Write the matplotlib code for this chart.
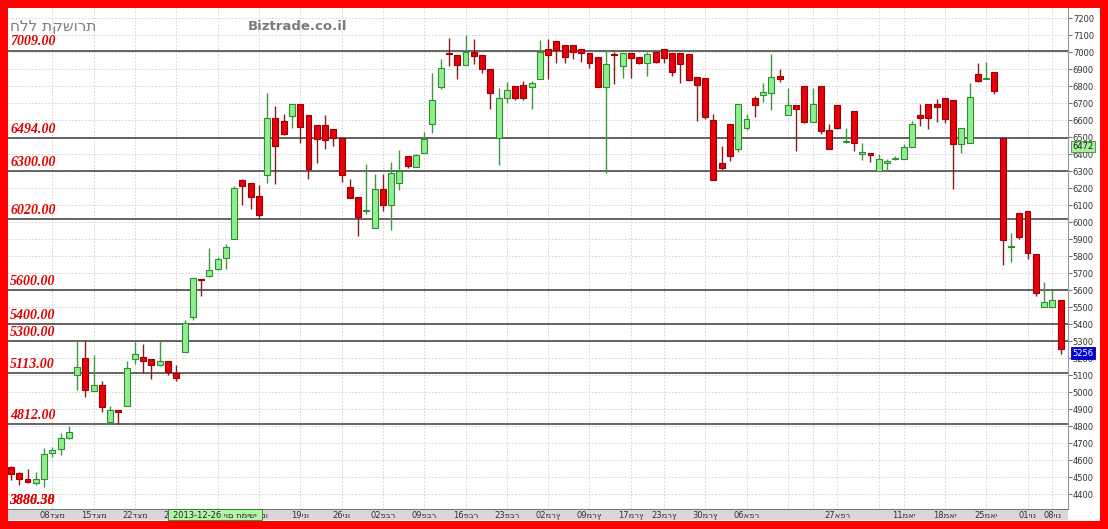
import matplotlib.pyplot as plt
import matplotlib.transforms as mtransforms
from matplotlib.patches import Rectangle

# daily candles (open, high, low, close)
opens = [4561, 4525, 4490, 4467, 4486, 4639, 4667, 4727, 5100, 5198,
         5006, 5039, 4825, 4892, 4918, 5196, 5206, 5192, 5157, 5182,
         5114, 5235, 5443, 5667, 5682, 5722, 5786, 5902, 6247, 6228,
         6153, 6277, 6614, 6594, 6624, 6692, 6630, 6569, 6569, 6550,
         6495, 6209, 6148, 6067, 5967, 6197, 6099, 6232, 6389, 6326,
         6409, 6575, 6797, 6995, 6981, 6922, 7001, 6981, 6903, 6497,
         6728, 6801, 6809, 6797, 6844, 7017, 7064, 7044, 7044, 7017,
         6997, 6971, 6797, 6990, 6915, 6997, 6968, 6938, 7001, 7020,
         6993, 6993, 6987, 6854, 6850, 6599, 6350, 6575, 6432, 6556,
         6730, 6750, 6758, 6860, 6628, 6691, 6801, 6589, 6801, 6540,
         6687, 6471, 6654, 6401, 6409, 6301, 6346, 6369, 6373, 6444,
         6630, 6697, 6693, 6730, 6720, 6458, 6467, 6869, 6840, 6885,
         6497, 5852, 6056, 6062, 5811, 5503, 5503, 5542]
highs = [4565, 4529, 4549, 4529, 4672, 4676, 4761, 4800, 5300, 5300,
         5216, 5065, 4918, 4892, 5182, 5294, 5280, 5192, 5300, 5182,
         5157, 5424, 5669, 5667, 5849, 5796, 5869, 6212, 6251, 6228,
         6216, 6761, 6682, 6633, 6696, 6692, 6630, 6569, 6630, 6550,
         6495, 6252, 6148, 6340, 6281, 6281, 6354, 6424, 6389, 6399,
         6530, 6875, 6958, 7081, 6981, 7099, 7075, 6981, 6903, 6791,
         6824, 6801, 6830, 6830, 7069, 7075, 7064, 7044, 7044, 7017,
         6997, 6971, 7013, 7001, 6997, 6997, 6973, 7001, 7001, 7020,
         6993, 6993, 6987, 6854, 6850, 6634, 6448, 6575, 6693, 6634,
         6742, 6820, 6987, 6899, 6791, 6691, 6801, 6791, 6801, 6575,
         6687, 6556, 6654, 6464, 6409, 6399, 6373, 6389, 6458, 6595,
         6693, 6697, 6722, 6730, 6720, 6556, 6820, 6934, 6942, 6885,
         6497, 5938, 6056, 6062, 5811, 5650, 5609, 5542]
lows = [4482, 4451, 4462, 4451, 4443, 4619, 4627, 4721, 5012, 4971,
        5006, 4882, 4810, 4814, 4918, 5163, 5114, 5078, 5153, 5098,
        5065, 5235, 5424, 5565, 5678, 5718, 5726, 5898, 6098, 6078,
        6020, 6228, 6222, 6510, 6551, 6467, 6252, 6346, 6432, 6448,
        6238, 6144, 5915, 6046, 5967, 6065, 5952, 6189, 6320, 6326,
        6405, 6522, 6781, 6918, 6844, 6922, 6928, 6879, 6664, 6336,
        6703, 6718, 6718, 6667, 6844, 6840, 6934, 6938, 6958, 6942,
        6909, 6797, 6291, 6811, 6850, 6850, 6928, 6860, 6938, 6938,
        6860, 6820, 6830, 6595, 6605, 6248, 6307, 6360, 6413, 6542,
        6615, 6707, 6660, 6824, 6628, 6418, 6581, 6589, 6516, 6428,
        6546, 6467, 6418, 6365, 6354, 6301, 6301, 6365, 6373, 6444,
        6565, 6546, 6589, 6581, 6197, 6405, 6467, 6824, 6840, 6752,
        5746, 5762, 5899, 5781, 5566, 5503, 5503, 5226]
closes = [4516, 4486, 4470, 4486, 4637, 4659, 4731, 4767, 5149, 5010,
          5039, 4912, 4894, 4882, 5143, 5225, 5182, 5157, 5182, 5118,
          5084, 5404, 5669, 5659, 5718, 5780, 5853, 6202, 6212, 6149,
          6043, 6614, 6447, 6516, 6692, 6559, 6314, 6491, 6483, 6495,
          6275, 6144, 6032, 6073, 6193, 6099, 6287, 6301, 6330, 6393,
          6491, 6718, 6909, 6988, 6922, 7001, 6977, 6899, 6758, 6730,
          6777, 6728, 6728, 6815, 7001, 6985, 7011, 6968, 7001, 6997,
          6934, 6797, 6928, 6982, 6997, 6962, 6938, 6987, 6942, 6962,
          6883, 6928, 6836, 6807, 6620, 6248, 6316, 6389, 6693, 6609,
          6691, 6762, 6856, 6840, 6691, 6667, 6589, 6697, 6536, 6432,
          6556, 6477, 6467, 6412, 6393, 6369, 6360, 6373, 6444, 6575,
          6614, 6614, 6679, 6609, 6458, 6556, 6736, 6830, 6844, 6769,
          5895, 5856, 5913, 5817, 5581, 5532, 5540, 5256]

# support / resistance levels
levels = [7009, 6494, 6300, 6020, 5600, 5400, 5300, 5113, 4812]

# date labels (candle index of each week start)
tick_idx = [5, 10, 15, 20, 25, 30, 35, 40, 45, 50, 55, 60, 65, 70, 75, 79,
            84, 89, 100, 108, 113, 118, 123, 126]
tick_lbl = ['08דצמ', '15דצמ', '22דצמ', '29דצמ', '05ינו', '12ינו', '19ינו',
            '26ינו', '02פבר', '09פבר', '16פבר', '23פבר', '02מרץ', '09מרץ',
            '17מרץ', '23מרץ', '30מרץ', '06אפר', '27אפר', '11מאי', '18מאי',
            '25מאי', '01יונ', '08יונ']
grid_idx = tick_idx + [94, 97, 105]

title = 'חלל תקשורת'
site = 'Biztrade.co.il'
cursor_date = '2013-12-26 יום חמישי'
marker_val = 6472
last_val = 5256

W, H = 1108, 529


def box(x0, y0, x1, y1):
    return [x0 / W, 1 - y1 / H, (x1 - x0) / W, (y1 - y0) / H]


fig = plt.figure(figsize=(W / 100, H / 100), dpi=100)
fig.patch.set_facecolor('#ff0000')
fig.patches.append(Rectangle((8 / W, 8 / H), 1092 / W, 513 / H, transform=fig.transFigure,
                             facecolor='white', edgecolor='none', zorder=-10))

ax = fig.add_axes(box(8, 8, 1068, 509))
ax.set_facecolor('white')
ax.set_xlim(-0.36, 127.9)
ax.set_ylim(4312, 7259)

# grid
for y in range(4400, 7201, 100):
    ax.axhline(y, color='#cfcfcf', lw=0.6, ls=(0, (2, 2)), zorder=1)
for x in grid_idx:
    ax.axvline(x, color='#cfcfcf', lw=0.6, ls=(0, (2, 2)), zorder=1)

# levels
trans = mtransforms.blended_transform_factory(ax.transAxes, ax.transData)
for lv in levels:
    ax.axhline(lv, color='#3a3a3a', lw=1.1, zorder=2)
    ax.annotate('%.2f' % lv, xy=(0, lv), xycoords=trans, xytext=(1.5, 1.5),
                textcoords='offset points', ha='left', va='bottom',
                color='#e00000', fontsize=10, fontweight='bold', fontstyle='italic',
                family='Liberation Serif', zorder=5)
ax.text(0.0015, 0.003, '3880.58', transform=ax.transAxes, color='#e00000', fontsize=10,
        fontweight='bold', fontstyle='italic', family='Liberation Serif', va='bottom', zorder=5)
ax.text(0.0015, 0.003, '3886.30', transform=ax.transAxes, color='#e00000', fontsize=10,
        fontweight='bold', fontstyle='italic', family='Liberation Serif', va='bottom', zorder=5)

# candles
for i in range(len(opens)):
    o, h, l, c = opens[i], highs[i], lows[i], closes[i]
    if c >= o:
        fc, ec, wc = '#90ee90', '#2f8f2f', '#3d9a3d'
    else:
        fc, ec, wc = '#e8000b', '#9a0000', '#8b1a1a'
    ax.vlines(i, l, h, color=wc, lw=1, zorder=3)
    ax.bar(i, max(abs(c - o), 6), bottom=min(o, c), width=0.72, color=fc,
           edgecolor=ec, linewidth=0.8, zorder=4)

# right axis
ax.yaxis.tick_right()
ax.set_yticks(range(4400, 7201, 100))
ax.tick_params(axis='y', length=3, color='#777777', labelsize=6, labelcolor='#333333', pad=0.5)
ax.set_xticks([])
for s in ['top', 'left', 'bottom']:
    ax.spines[s].set_visible(False)
ax.spines['right'].set_color('#999999')

ax.text(1.004, marker_val, str(marker_val), transform=trans, fontsize=6, color='#1a1a1a',
        va='top', ha='left', zorder=6,
        bbox=dict(boxstyle='square,pad=0.15', facecolor='#a6f0a0', edgecolor='#3a8a3a', lw=0.6))
ax.text(1.004, last_val, str(last_val), transform=trans, fontsize=6, color='white',
        va='top', ha='left', zorder=6,
        bbox=dict(boxstyle='square,pad=0.15', facecolor='#0000dd', edgecolor='#0000aa', lw=0.6))

# title texts
fig.text(10 / W, 1 - 27 / H, title, fontsize=11, color='#7f7f7f', va='center', ha='left')
fig.text(248 / W, 1 - 27 / H, site, fontsize=9.5, fontweight='bold', color='#7a7a7a',
         va='center', ha='left')

# date strip
axs = fig.add_axes(box(8, 509, 1068, 520), sharex=ax)
axs.set_facecolor('#d8d8d8')
axs.set_ylim(0, 1)
axs.tick_params(left=False, bottom=False, labelleft=False, labelbottom=False)
for s in ['left', 'right', 'bottom']:
    axs.spines[s].set_visible(False)
axs.spines['top'].set_color('#7a7a7a')
for x, lbl in zip(tick_idx, tick_lbl):
    axs.text(x, 0.45, lbl, fontsize=6, color='#333333', ha='center', va='center')
fig.patches.append(Rectangle((168 / W, 1 - 520 / H), 94 / W, 11 / H, transform=fig.transFigure,
                             facecolor='#b4f4a8', edgecolor='#2f6f2f', lw=0.6, zorder=10))
fig.text(215 / W, 1 - 515 / H, cursor_date, fontsize=6, color='#222222', ha='center',
         va='center', zorder=11)

fig.savefig('out.png', dpi=100, facecolor=fig.get_facecolor())
